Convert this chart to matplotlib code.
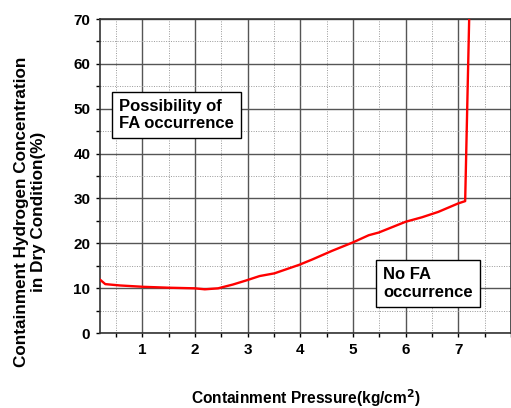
import matplotlib
matplotlib.use("Agg")
import matplotlib.pyplot as plt
from matplotlib.ticker import MultipleLocator

plt.rcParams["font.family"] = ["Liberation Sans", "DejaVu Sans"]
plt.rcParams["font.weight"] = "bold"

# H2 concentration limit vs containment pressure
pressure = [0.21, 0.30, 0.58, 1.02, 1.50, 2.00, 2.19, 2.44, 2.72, 2.97,
            3.23, 3.51, 3.98, 4.23, 4.60, 5.00, 5.30, 5.49, 6.00, 6.31,
            6.62, 7.00, 7.13, 7.21]
h2_conc = [11.8, 10.9, 10.6, 10.3, 10.1, 9.96, 9.74, 9.96, 10.8, 11.7,
           12.7, 13.3, 15.2, 16.4, 18.3, 20.2, 21.8, 22.4, 24.8, 25.8,
           27.0, 28.9, 29.4, 72.0]

fig = plt.figure(figsize=(5.11, 4.08), dpi=100)
ax = fig.add_axes([0.1957, 0.1838, 0.8043, 0.7696])

ax.plot(pressure, h2_conc, color="red", lw=1.7, zorder=3)

ax.set_xlim(0.2, 8.0)
ax.set_ylim(0, 70)
ax.xaxis.set_major_locator(MultipleLocator(1))
ax.xaxis.set_minor_locator(MultipleLocator(0.5))
ax.yaxis.set_major_locator(MultipleLocator(10))
ax.yaxis.set_minor_locator(MultipleLocator(5))
ax.set_xticks([1, 2, 3, 4, 5, 6, 7])

ax.grid(which="major", color="#555555", lw=1.0, ls="-")
ax.grid(which="minor", color="#999999", lw=0.7, ls=(0, (1, 1.5)))
ax.tick_params(which="both", direction="out", right=True, width=1)
ax.tick_params(which="major", length=3, labelsize=11, pad=4)
ax.tick_params(which="minor", length=3)
for lab in ax.get_xticklabels() + ax.get_yticklabels():
    lab.set_fontweight("bold")
for sp in ax.spines.values():
    sp.set_color("#333333")
    sp.set_linewidth(1.2)

ax.set_xlabel("Containment Pressure(kg/cm$^\\mathbf{2}$)", fontsize=11.2,
              fontweight="bold", labelpad=22)
fig.text(30 / 511, 1 - 212 / 408,
         "Containment Hydrogen Concentration\nin Dry Condition(%)",
         rotation=90, fontsize=12.3, fontweight="bold", ha="center",
         va="center", multialignment="center", linespacing=1.15)

box = dict(boxstyle="square,pad=0.42", fc="white", ec="black", lw=1)
ax.text(1.66, 48.6, "Possibility of\nFA occurrence", fontsize=12,
        fontweight="bold", ha="center", va="center", multialignment="left",
        bbox=box, linespacing=1.2, zorder=4)
ax.text(6.42, 11.0, "No FA\noccurrence", fontsize=12,
        fontweight="bold", ha="center", va="center", multialignment="left",
        bbox=box, linespacing=1.2, zorder=4)

fig.savefig("out.png", dpi=100)
